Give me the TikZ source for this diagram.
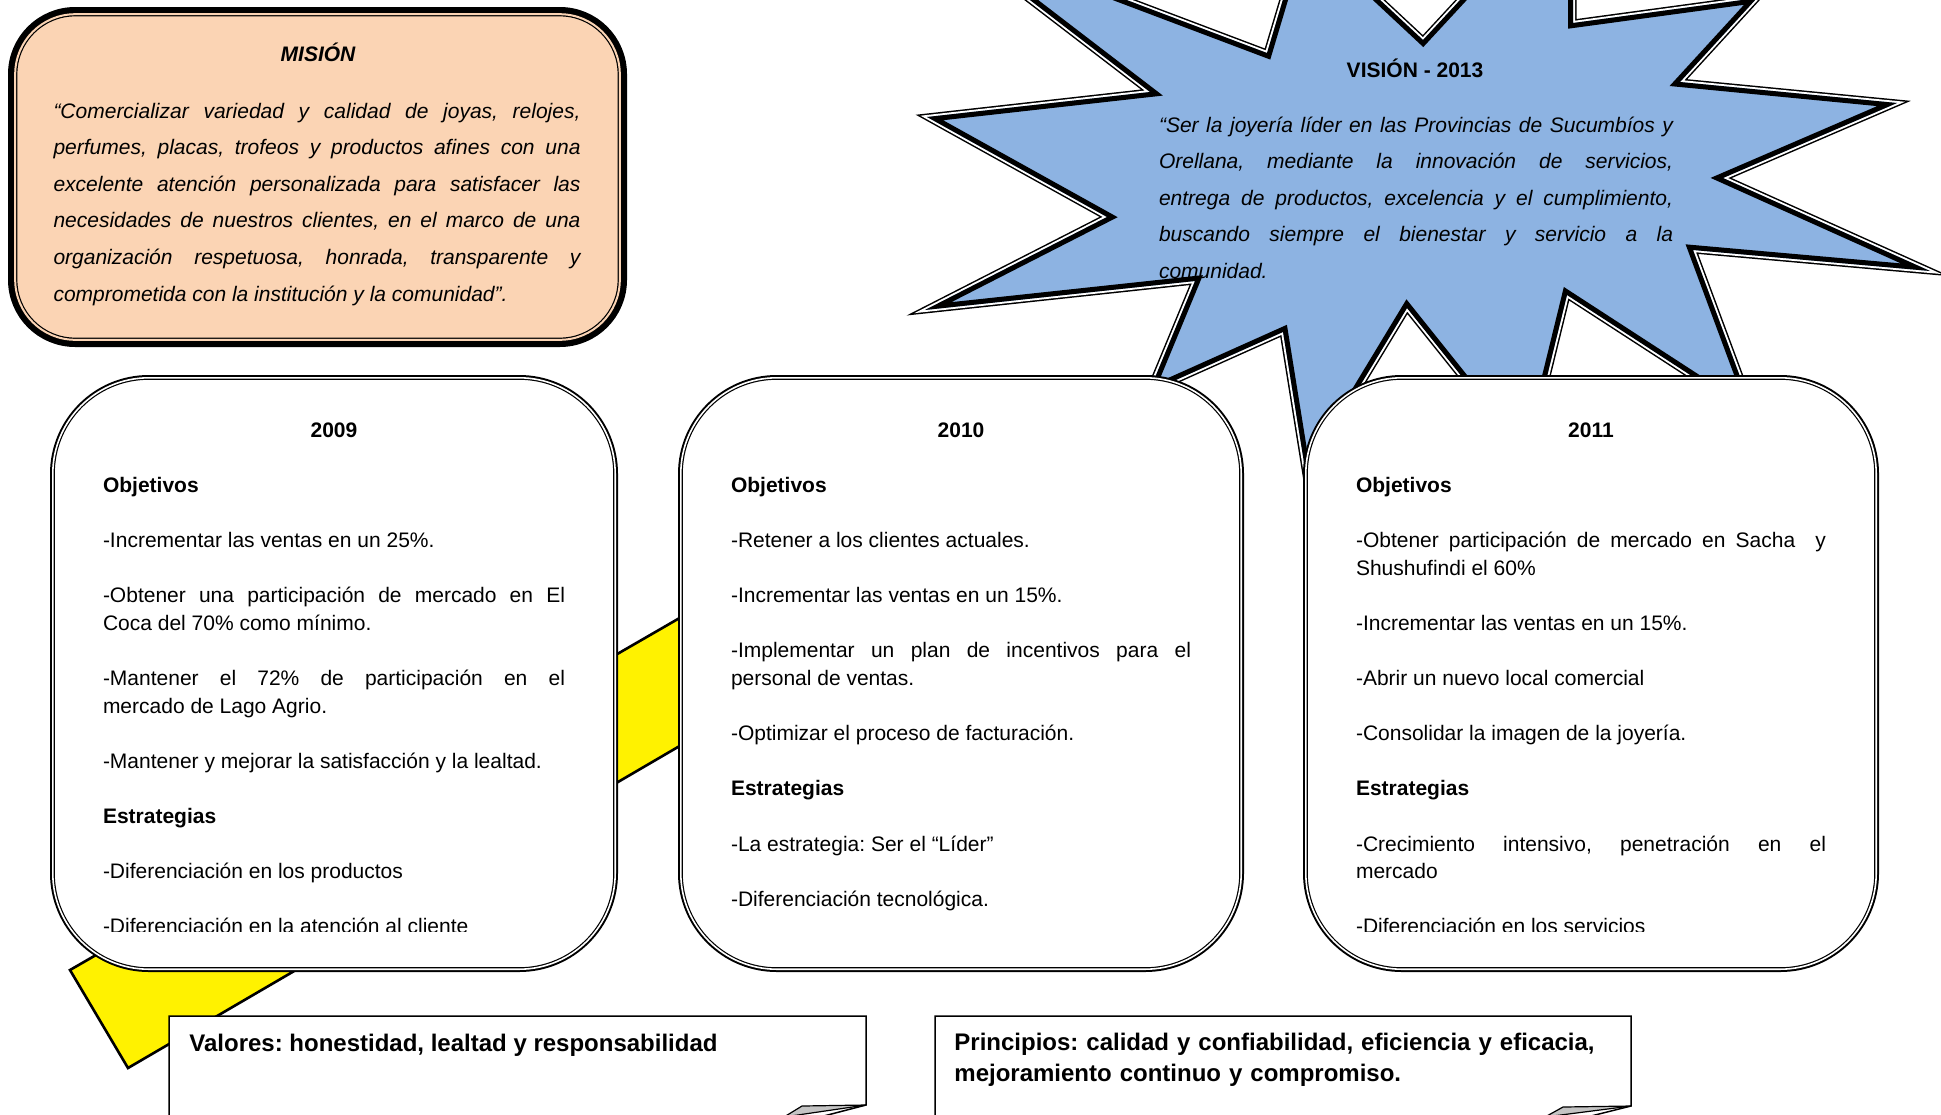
\documentclass[tikz,border=0pt]{standalone}
\usepackage{fontspec}
\setmainfont{Liberation Sans}
\usepackage{tikz}
\definecolor{peach}{HTML}{FBD4B4}
\definecolor{skyblue}{HTML}{8DB3E2}
\definecolor{foldgray}{HTML}{C4C4C4}
\hyphenpenalty=10000
\exhyphenpenalty=10000
\frenchspacing
\newcommand{\visionstar}{(927,117) -- (1150,92) -- (936,-72) -- (1267,53) -- (1304,-71) -- (1423,40) -- (1573,-122) -- (1573,23) -- (1757,-2) -- (1680,82) -- (1897,103) -- (1723,178) -- (1930,271) -- (1693,250) -- (1755,417) -- (1567,295) -- (1527,458) -- (1407,308) -- (1306,475) -- (1283,332) -- (1149,392) -- (1195,281) -- (925,310) -- (1107,217) -- cycle}

\begin{document}
\begin{tikzpicture}[x=0.5pt, y=-0.5pt,
    yearbox/.style={draw, line width=0.6pt, double=white, double distance=0.8pt, fill=white,
        rounded corners=48pt, inner sep=0pt, minimum height=295.7pt,
        preaction={draw, line width=2.8pt}},
    misbox/.style={draw, line width=0.6pt, double=peach, double distance=1pt, fill=peach,
        rounded corners=30pt, inner sep=0pt, preaction={draw, line width=7.2pt}},
    yeartext/.style={anchor=base, inner sep=0pt, align=justify, font=\fontsize{10.5}{13.8}\selectfont,
        execute at begin node={\setlength{\parskip}{13.8pt}}},
    quotetext/.style={anchor=base, inner sep=0pt, align=justify, font=\fontsize{10.5}{18.3}\selectfont\itshape},
    notetext/.style={anchor=base west, inner sep=0pt, align=left, font=\fontsize{12}{15.5}\selectfont\bfseries},
    note/.style={fill=white, line width=0.75pt},
    fold/.style={fill=foldgray, line width=0.6pt, line join=round}]
\useasboundingbox (0,0) rectangle (1941,1114);
\clip (0,0) rectangle (1941,1114);

\filldraw[fill=yellow, line width=1.3pt] (1000,433) -- (70,970) -- (128,1068) -- (1000,559) -- cycle;

\draw[line width=3.5pt] \visionstar;
\draw[white, line width=2pt] \visionstar;
\fill[skyblue] \visionstar;
\begin{scope}
    \clip \visionstar;
    \draw[line width=5pt] \visionstar;
\end{scope}
\node[anchor=base, font=\fontsize{10.5}{13}\selectfont\bfseries] (vistitle) at (1415,77) {VISIÓN - 2013};
\node[quotetext, text width=257pt] (vistext) at (1416,132) {“Ser la joyería líder en las Provincias de Sucumbíos y\linebreak Orellana, mediante la innovación de servicios,\linebreak entrega de productos, excelencia y el cumplimiento,\linebreak buscando siempre el bienestar y servicio a la\linebreak comunidad.};

\node[misbox, minimum width=302.3pt, minimum height=162.8pt] (mis) at (317.5,177) {};
\node[anchor=base, font=\fontsize{10.5}{13}\selectfont\bfseries\itshape] (mistitle) at (318,61.5) {MISIÓN};
\node[quotetext, text width=263.5pt] (mistext) at (317,118) {“Comercializar variedad y calidad de joyas, relojes,\linebreak perfumes, placas, trofeos y productos afines con una\linebreak excelente atención personalizada para satisfacer las\linebreak necesidades de nuestros clientes, en el marco de una\linebreak organización respetuosa, honrada, transparente y\linebreak comprometida con la institución y la comunidad”.};

\node[yearbox, minimum width=281.2pt] (b09) at (334,673.5) {};
\node[yearbox, minimum width=280.2pt] (b10) at (961,673.5) {};
\node[yearbox, minimum width=285.2pt] (b11) at (1591,673.5) {};

\begin{scope}
    \clip (55,380) rectangle (613,931);
    \node[yeartext, text width=231pt] (t09) at (334,437) {{\centering\textbf{2009}\par}
        \textbf{Objetivos}\par
        -Incrementar las ventas en un 25\%.\par
        -Obtener una participación de mercado en El\linebreak Coca del 70\% como mínimo.\par
        -Mantener el 72\% de participación en el\linebreak mercado de Lago Agrio.\par
        -Mantener y mejorar la satisfacción y la lealtad.\par
        \textbf{Estrategias}\par
        -Diferenciación en los productos\par
        -Diferenciación en la atención al cliente};
\end{scope}
\node[yeartext, text width=230pt] (t10) at (961,437) {{\centering\textbf{2010}\par}
    \textbf{Objetivos}\par
    -Retener a los clientes actuales.\par
    -Incrementar las ventas en un 15\%.\par
    -Implementar un plan de incentivos para el\linebreak personal de ventas.\par
    -Optimizar el proceso de facturación.\par
    \textbf{Estrategias}\par
    -La estrategia: Ser el “Líder”\par
    -Diferenciación tecnológica.};
\begin{scope}
    \clip (1308,380) rectangle (1874,931);
    \node[yeartext, text width=235pt] (t11) at (1591,437) {{\centering\textbf{2011}\par}
        \textbf{Objetivos}\par
        -Obtener participación de mercado en Sacha\ \ y\linebreak Shushufindi el 60\%\par
        -Incrementar las ventas en un 15\%.\par
        -Abrir un nuevo local comercial\par
        -Consolidar la imagen de la joyería.\par
        \textbf{Estrategias}\par
        -Crecimiento intensivo, penetración en el\linebreak mercado\par
        -Diferenciación en los servicios};
\end{scope}

\draw[note] (169,1016) -- (866,1016) -- (866,1105) -- (770,1130) -- (169,1130) -- cycle;
\filldraw[fold] (866,1105) -- (802,1106) -- (784,1117) -- cycle;
\node[notetext] (valores) at (189,1051) {Valores: honestidad, lealtad y responsabilidad};
\draw[note] (935,1016) -- (1631,1016) -- (1631,1106) -- (1535,1130) -- (935,1130) -- cycle;
\filldraw[fold] (1631,1106) -- (1563,1107) -- (1545,1117) -- cycle;
\node[notetext, text width=340pt] (principios) at (954,1050.5) {Principios: calidad y confiabilidad, eficiencia y eficacia,\\ mejoramiento continuo y compromiso.};
\end{tikzpicture}
\end{document}
